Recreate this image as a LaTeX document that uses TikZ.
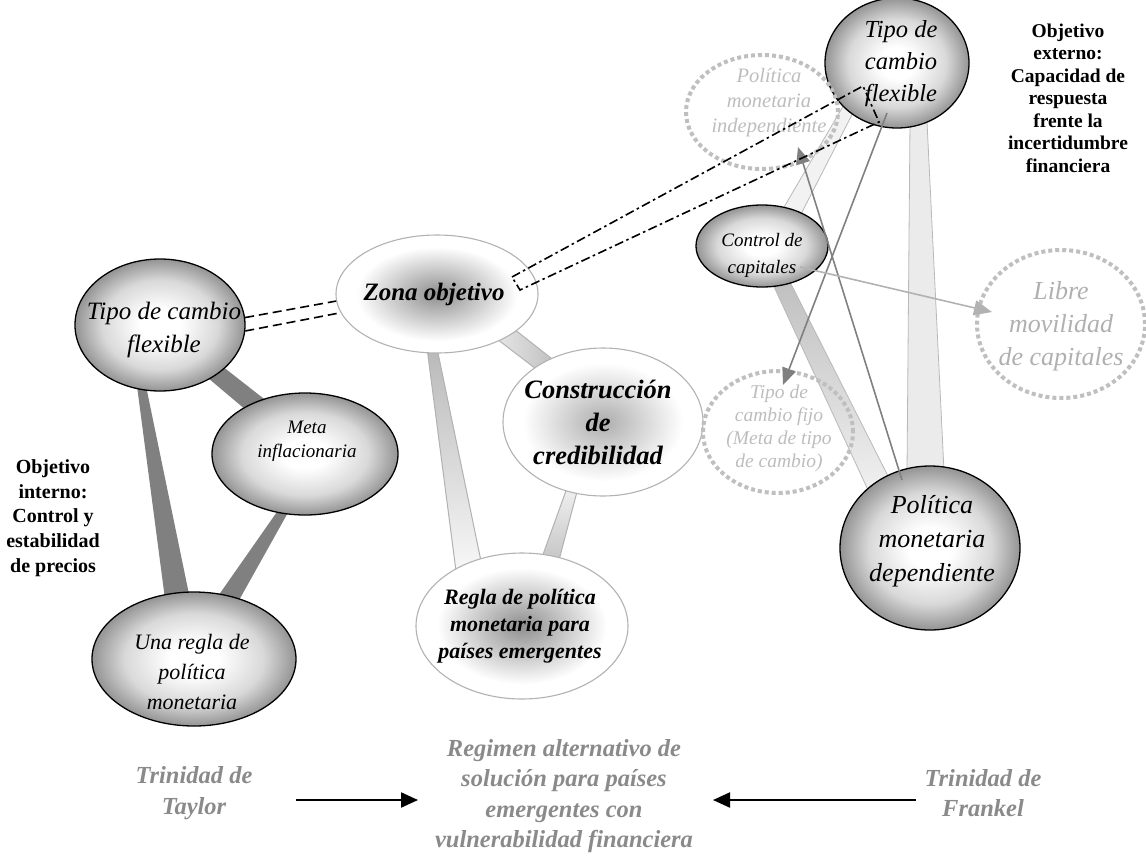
\documentclass[tikz,border=0pt]{standalone}
\usepackage{fontspec}
\setmainfont{Liberation Serif}
\usetikzlibrary{shapes.geometric,arrows.meta,calc}
\definecolor{edgegray}{gray}{0.58}
\definecolor{midgray}{gray}{0.85}
\definecolor{centergray}{gray}{0.56}
\definecolor{centergraylt}{gray}{0.68}
\definecolor{dotgray}{gray}{0.75}
\definecolor{faintgray}{gray}{0.70}
\definecolor{bandgray}{gray}{0.5}
\definecolor{lightline}{gray}{0.70}
\definecolor{botgray}{gray}{0.54}
\definecolor{ghosttext}{gray}{0.74}
\pgfdeclareradialshading{darkball}{\pgfpoint{0bp}{0bp}}{color(0bp)=(white); color(6bp)=(white); color(17bp)=(midgray); color(25bp)=(edgegray); color(50bp)=(edgegray)}
\pgfdeclareradialshading{lightball}{\pgfpoint{0bp}{0bp}}{color(0bp)=(centergray); color(20bp)=(white); color(25bp)=(white); color(50bp)=(white)}
\pgfdeclareradialshading{lightballb}{\pgfpoint{0bp}{0bp}}{color(0bp)=(centergraylt); color(20bp)=(white); color(25bp)=(white); color(50bp)=(white)}
\pgfdeclarelayer{background}
\pgfsetlayers{background,main}
\begin{document}
\begin{tikzpicture}[x=1pt,y=-1pt,
  darkell/.style={ellipse, draw=black, line width=1.3pt, shade, shading=darkball, inner sep=0pt},
  lightell/.style={ellipse, draw=lightline, line width=1.1pt, shade, shading=lightball, inner sep=0pt},
  dotell/.style={ellipse, draw=dotgray, line width=4pt, dash pattern=on 4pt off 3pt, inner sep=0pt},
  txt/.style={align=center, inner sep=0pt},
  ghost/.style={txt, text=ghosttext},
  bottxt/.style={txt, text=botgray, font=\fontsize{24.5}{30.3}\selectfont\bfseries\itshape},
  lab/.style={txt, text=black},
  darkband/.style={fill=bandgray},
  midband/.style={draw=lightline, line width=1pt},
  rband/.style={draw=gray!55, line width=0.8pt},
  thinarrow/.style={draw=bandgray, line width=1.6pt, -{Triangle[length=17pt,width=14pt]}},
  faintarrow/.style={draw=faintgray, line width=1.6pt, -{Triangle[length=18pt,width=15pt]}},
  dashline/.style={draw=black, line width=1.6pt, dash pattern=on 9pt off 5pt},
  dashdotline/.style={draw=black, line width=1.6pt, dash pattern=on 9pt off 3.5pt on 2.5pt off 3.5pt},
  bigarrow/.style={draw=black, line width=2.2pt, -{Triangle[length=17pt,width=15pt]}}
]
\useasboundingbox (0,0) rectangle (1146,855);

% ellipses
\node[darkell, minimum width=170pt, minimum height=132pt] (tcfl) at (160,325) {};
\node[darkell, minimum width=186pt, minimum height=122pt] (meta) at (305,454) {};
\node[darkell, minimum width=204pt, minimum height=134pt] (regla) at (194,659) {};
\node[lightell, minimum width=202pt, minimum height=118pt] (zona) at (437,294) {};
\node[lightell, shading=lightballb, minimum width=200pt, minimum height=148pt] (constr) at (603,422) {};
\node[lightell, minimum width=212pt, minimum height=146pt] (emerg) at (522,626) {};
\node[darkell, minimum width=144pt, minimum height=130pt] (tcft) at (897,63) {};
\node[dotell, minimum width=152pt, minimum height=114pt] (indep) at (762,112) {};
\node[darkell, minimum width=132pt, minimum height=82pt] (control) at (762,246) {};
\node[dotell, minimum width=168pt, minimum height=148pt] (libre) at (1061,324) {};
\node[dotell, minimum width=150pt, minimum height=122pt] (fijo) at (778,432) {};
\node[darkell, minimum width=180pt, minimum height=164pt] (dep) at (930,548) {};

% texts
\node[lab, font=\fontsize{25}{33}\selectfont\itshape] (tcflt) at (164,330) {Tipo de cambio\\flexible};
\node[lab, font=\fontsize{19}{24}\selectfont\itshape] (metat) at (307,441) {Meta\\inflacionaria};
\node[lab, font=\fontsize{22}{30}\selectfont\itshape] (reglat) at (192,672) {Una regla de\\política\\monetaria};
\node[lab, font=\fontsize{25}{30}\selectfont\bfseries\itshape] (zonat) at (434,294) {Zona objetivo};
\node[lab, font=\fontsize{26.5}{33}\selectfont\bfseries\itshape] (constrt) at (598,422) {Construcción\\de\\credibilidad};
\node[lab, font=\fontsize{22}{27}\selectfont\bfseries\itshape] (emergt) at (520,626) {Regla de política\\monetaria para\\países emergentes};
\node[lab, font=\fontsize{24.5}{32}\selectfont\itshape] (tcftt) at (901,64) {Tipo de\\cambio\\flexible};
\node[ghost, font=\fontsize{20.5}{25}\selectfont\itshape] (indept) at (769,103) {Política\\monetaria\\independiente};
\node[lab, font=\fontsize{19}{27}\selectfont\itshape] (controlt) at (762,255) {Control de\\capitales};
\node[ghost, text=gray!62, font=\fontsize{26}{33}\selectfont\itshape] (libret) at (1061,326) {Libre\\movilidad\\de capitales};
\node[ghost, font=\fontsize{19.5}{23}\selectfont\itshape] (fijot) at (779,428) {Tipo de\\cambio fijo\\(Meta de tipo\\de cambio)};
\node[lab, font=\fontsize{26}{34}\selectfont\itshape] (dept) at (932,541) {Política\\monetaria\\dependiente};

\node[lab, font=\fontsize{19.5}{22.5}\selectfont\bfseries] (objext) at (1068,98) {Objetivo\\externo:\\Capacidad de\\respuesta\\frente la\\incertidumbre\\financiera};
\node[lab, font=\fontsize{20}{24.7}\selectfont\bfseries] (objint) at (53,518) {Objetivo\\interno:\\Control y\\estabilidad\\de precios};

\node[bottxt] (taylor) at (194,793) {Trinidad de\\Taylor};
\node[bottxt] (frankel) at (983,793) {Trinidad de\\Frankel};
\node[bottxt] (regimen) at (564,796) {Regimen alternativo de\\solución para países\\emergentes con\\vulnerabilidad financiera};

% bands (behind)
\begin{pgfonlayer}{background}
\fill[darkband] ($(tcfl)+(-23,61)$) -- ($(tcfl)+(-14,61)$) -- ($(regla)+(-4,-60)$) -- ($(regla)+(-29,-60)$) -- cycle;
\fill[darkband] ($(meta)+(-26,55)$) -- ($(meta)+(-15,55)$) -- ($(regla)+(44,-57)$) -- ($(regla)+(22,-60)$) -- cycle;
\fill[darkband] ($(tcfl)+(48,53)$) -- ($(tcfl)+(62,41)$) -- ($(meta)+(-37,-52)$) -- ($(meta)+(-59,-44)$) -- cycle;
\draw[midband, top color=gray!55, bottom color=gray!6] ($(zona)+(-10,54)$) -- ($(zona)+(0,54)$) -- ($(emerg)+(-40,-60)$) -- ($(emerg)+(-66,-55)$) -- cycle;
\draw[midband, left color=gray!20, right color=gray!50] ($(zona)+(60,45)$) -- ($(zona)+(77,35)$) -- ($(constr)+(-47,-60)$) -- ($(constr)+(-63,-50)$) -- cycle;
\draw[midband, top color=gray!12, bottom color=gray!45] ($(constr)+(-36,66)$) -- ($(constr)+(-25,66)$) -- ($(emerg)+(37,-66)$) -- ($(emerg)+(19,-66)$) -- cycle;
\draw[rband, fill=gray!16] ($(tcft)+(13,59)$) -- ($(tcft)+(30,59)$) -- ($(dep)+(14,-77)$) -- ($(dep)+(-23,-77)$) -- cycle;
\draw[rband, fill=gray!10] ($(tcft)+(-52,40)$) -- ($(tcft)+(-39,40)$) -- ($(control)+(38,-30)$) -- ($(control)+(18,-32)$) -- cycle;
\draw[rband, top color=gray!50, bottom color=gray!12] ($(control)+(8,32)$) -- ($(control)+(26,32)$) -- ($(dep)+(-40,-68)$) -- ($(dep)+(-62,-58)$) -- cycle;
\end{pgfonlayer}

% thin arrows
\draw[thinarrow] ($(dep)+(-28,-68)$) -- ($(indep)+(36,35)$);
\draw[thinarrow] ($(tcft)+(-10,50)$) -- ($(fijo)+(5,-47)$);
\draw[faintarrow] ($(control)+(38,21)$) -- ($(libre)+(-69,-12)$);

% dashed links
\draw[dashline] (tcfl.5) -- (zona.184);
\draw[dashline] (tcfl.-4) -- (zona.191);
\draw[dashdotline] ($(zona)+(75,-17)$) -- ($(tcft)+(-34,23)$) -- ($(tcft)+(-18,59)$) -- ($(zona)+(83,-4)$) -- cycle;

% bottom arrows
\coordinate (la) at (296,800);
\coordinate (lb) at (418,800);
\coordinate (ra) at (916,800);
\coordinate (rb) at (713,800);
\draw[bigarrow] (la) -- (lb);
\draw[bigarrow] (ra) -- (rb);
\end{tikzpicture}
\end{document}
